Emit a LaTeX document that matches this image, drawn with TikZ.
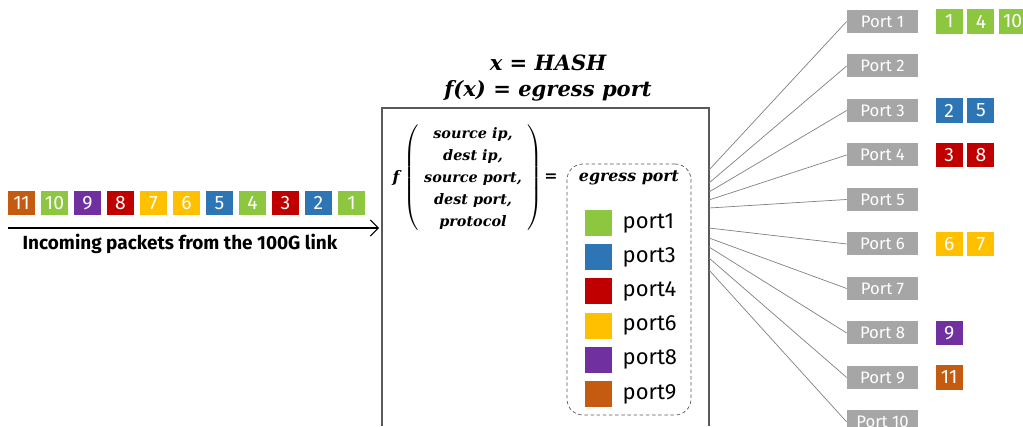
\documentclass[tikz,border=0pt]{standalone}
\usepackage{fontspec}
\setsansfont{Fira Sans}
\newfontfamily\eqfont{DejaVu Serif}
\usetikzlibrary{arrows.meta,positioning}
\definecolor{pgreen}{HTML}{8DC63F}
\definecolor{pblue}{HTML}{2E75B6}
\definecolor{pred}{HTML}{C00000}
\definecolor{pyellow}{HTML}{FFC000}
\definecolor{ppurple}{HTML}{7030A0}
\definecolor{porange}{HTML}{C55A11}
\definecolor{pgray}{HTML}{A6A6A6}
\definecolor{boxgray}{HTML}{595959}
\tikzset{
  pkt style/.style={rectangle, minimum width=0.54cm, minimum height=0.49cm, inner sep=0pt,
    text=white, font=\sffamily\fontsize{11}{13}\selectfont},
  port style/.style={rectangle, fill=pgray, minimum width=1.42cm, minimum height=0.46cm,
    inner sep=0pt, text=white, font=\sffamily\fontsize{9.5}{11}\selectfont},
  key style/.style={rectangle, minimum width=0.54cm, minimum height=0.52cm, inner sep=0pt},
  keytxt style/.style={inner sep=0pt, font=\sffamily\fontsize{12.5}{14}\selectfont},
  math style/.style={inner sep=0pt, align=center, font=\eqfont\bfseries\itshape\fontsize{9}{12.5}\selectfont},
  link style/.style={draw=gray, thin},
  arr style/.style={-{Straight Barb[length=1.6mm]}, semithick}
}
\begin{document}
\begin{tikzpicture}[x=0.02cm, y=-0.02cm, node distance=0.106cm]
\useasboundingbox (0,0) rectangle (1023,426);
% incoming packets
\node[pkt style, fill=porange] (pk11) at (21.5,203) {11};
\node[pkt style, fill=pgreen, right=of pk11] (pk10) {10};
\node[pkt style, fill=ppurple, right=of pk10] (pk9) {9};
\node[pkt style, fill=pred, right=of pk9] (pk8) {8};
\node[pkt style, fill=pyellow, right=of pk8] (pk7) {7};
\node[pkt style, fill=pyellow, right=of pk7] (pk6) {6};
\node[pkt style, fill=pblue, right=of pk6] (pk5) {5};
\node[pkt style, fill=pgreen, right=of pk5] (pk4) {4};
\node[pkt style, fill=pred, right=of pk4] (pk3) {3};
\node[pkt style, fill=pblue, right=of pk3] (pk2) {2};
\node[pkt style, fill=pgreen, right=of pk2] (pk1) {1};
\coordinate (in) at (8,228);
\coordinate (sw) at (379,228);
\draw[arr style] (in) -- (sw);
\node[font=\sffamily\bfseries\fontsize{10.8}{12}\selectfont] (lbl) at (180,244)
  {Incoming packets from the 100G link};

% switch box
\draw[boxgray, thick] (382,426) -- (382,108) -- (709,108) -- (709,426);
\node[math style, font=\eqfont\bfseries\itshape\fontsize{12}{14.5}\selectfont] (ttl) at (548,78)
  {x = HASH\\f(x) = egress port};
\node[math style, font=\eqfont\bfseries\itshape\fontsize{8.2}{12.5}\selectfont] (args) at (473,178)
  {$\left(\begin{tabular}{@{\hspace{3pt}}c@{\hspace{3pt}}}source ip,\\dest ip,\\source port,\\dest port,\\protocol\end{tabular}\right)$};
\node[math style] (fn) at (396,178) {f};
\node[math style] (eq) at (551,178) {=};

% egress port key
\node[draw=boxgray, dash pattern=on 2pt off 1.5pt, rounded corners=9pt, minimum width=2.48cm,
  minimum height=5.02cm] (keybox) at (629,289.5) {};
\node[math style] (keyttl) at (629,178) {egress port};
\node[key style, fill=pgreen] (key1) at (598.5,223) {};
\node[key style, fill=pblue, below=0.15cm of key1] (key3) {};
\node[key style, fill=pred, below=0.15cm of key3] (key4) {};
\node[key style, fill=pyellow, below=0.15cm of key4] (key6) {};
\node[key style, fill=ppurple, below=0.15cm of key6] (key8) {};
\node[key style, fill=porange, below=0.15cm of key8] (key9) {};
\node[keytxt style, right=0.2cm of key1] (kt1) {port1};
\node[keytxt style, right=0.2cm of key3] (kt3) {port3};
\node[keytxt style, right=0.2cm of key4] (kt4) {port4};
\node[keytxt style, right=0.2cm of key6] (kt6) {port6};
\node[keytxt style, right=0.2cm of key8] (kt8) {port8};
\node[keytxt style, right=0.2cm of key9] (kt9) {port9};

% egress ports
\node[port style] (port1) at (882.5,21.5) {Port 1};
\node[port style, below=0.416cm of port1] (port2) {Port 2};
\node[port style, below=0.416cm of port2] (port3) {Port 3};
\node[port style, below=0.416cm of port3] (port4) {Port 4};
\node[port style, below=0.416cm of port4] (port5) {Port 5};
\node[port style, below=0.416cm of port5] (port6) {Port 6};
\node[port style, below=0.416cm of port6] (port7) {Port 7};
\node[port style, below=0.416cm of port7] (port8) {Port 8};
\node[port style, below=0.416cm of port8] (port9) {Port 9};
\node[port style, below=0.416cm of port9] (port10) {Port 10};
\foreach \i/\y in {1/170,2/183,3/192,4/200,5/208,6/228,7/238,8/247,9/258,10/270}{
  \coordinate (out\i) at (709,\y);
  \draw[link style] (out\i) -- (port\i.west);
}

% packets per port
\node[pkt style, fill=pgreen, right=0.34cm of port1] (q1a) {1};
\node[pkt style, fill=pgreen, right=0.08cm of q1a] (q1b) {4};
\node[pkt style, fill=pgreen, right=0.08cm of q1b] (q1c) {10};
\node[pkt style, fill=pblue, right=0.34cm of port3] (q3a) {2};
\node[pkt style, fill=pblue, right=0.08cm of q3a] (q3b) {5};
\node[pkt style, fill=pred, right=0.34cm of port4] (q4a) {3};
\node[pkt style, fill=pred, right=0.08cm of q4a] (q4b) {8};
\node[pkt style, fill=pyellow, right=0.34cm of port6] (q6a) {6};
\node[pkt style, fill=pyellow, right=0.08cm of q6a] (q6b) {7};
\node[pkt style, fill=ppurple, right=0.34cm of port8] (q8a) {9};
\node[pkt style, fill=porange, right=0.34cm of port9] (q9a) {11};
\end{tikzpicture}
\end{document}
